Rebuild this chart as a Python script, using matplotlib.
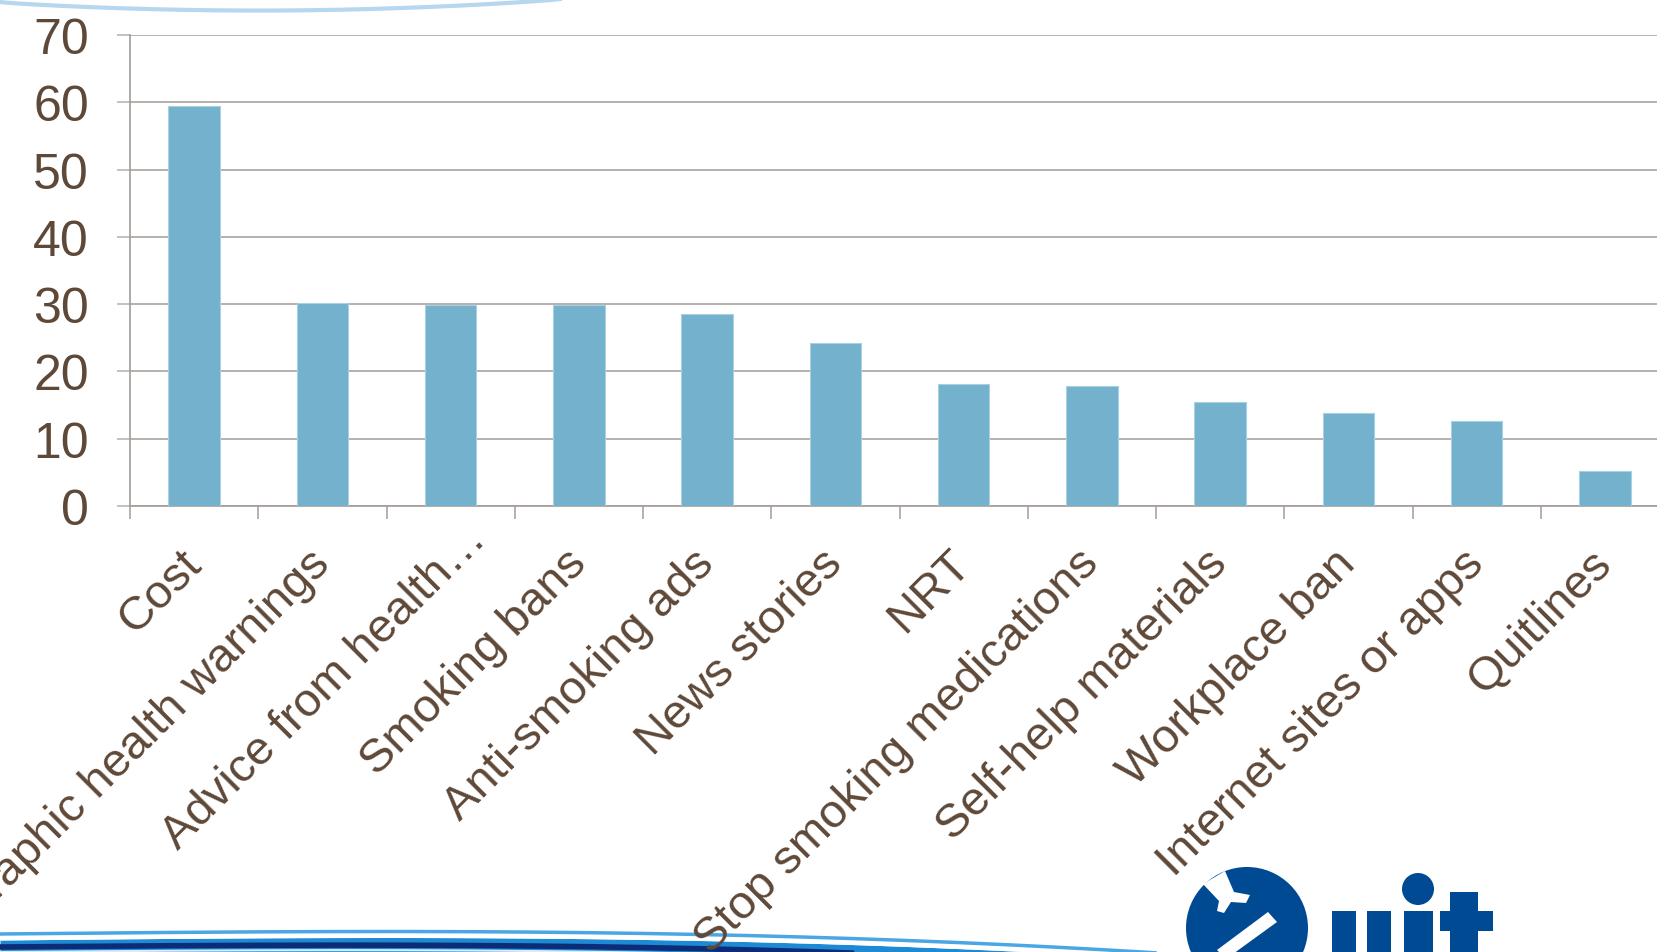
import numpy as np
import matplotlib
matplotlib.use('Agg')
import matplotlib.pyplot as plt
import matplotlib.transforms as mtransforms
from matplotlib.patches import Circle, Rectangle, Polygon
from matplotlib.ticker import FixedLocator

plt.rcParams['font.family'] = ['Liberation Sans', 'DejaVu Sans']

# percentage of quitters naming each influence
categories = ['Cost', 'Graphic health warnings', 'Advice from health\u2026',
              'Smoking bans', 'Anti-smoking ads', 'News stories', 'NRT',
              'Stop smoking medications', 'Self-help materials',
              'Workplace ban', 'Internet sites or apps', 'Quitlines']
values = [59.5, 30.2, 29.9, 29.8, 28.6, 24.2, 18.1, 17.8, 15.5, 13.8, 12.6, 5.2]
yticks = [0, 10, 20, 30, 40, 50, 60, 70]

text_col = '#5e4838'
grid_col = '#b5b0ad'
bar_col = '#73b1cd'

W, H = 1657, 953
fig = plt.figure(figsize=(W / 100, H / 100), dpi=100)

# slide decoration sits underneath the chart, in pixel units
deco = fig.add_axes([0, 0, 1, 1], zorder=0)
deco.set_xlim(0, W)
deco.set_ylim(H, 0)
deco.axis('off')

t = np.linspace(0, 560, 200)
deco.plot(t, 3 + 10 * np.sin(np.pi * t / 560) ** 0.8 - 3 * t / 560, color='#b5d7f0', lw=3)

s = np.linspace(0, 1155, 300)
u = s / 1155
top = 935 - 4 * np.sin(np.pi * u * 0.9) + 20 * u ** 3
deco.fill_between(s, top + 6, H + 2, color='#1e8ad3', lw=0)
deco.fill_between(s, top + 2.5, top + 6, color='white', lw=0)
deco.plot(s, top, color='#4aa6e4', lw=2.5)
deco.plot(s, top + 13 + 2 * u, color='#0c2c78', lw=4)
deco.plot(s, top + 18 + 2 * u, color='#d8ecfa', lw=1.5)

# Quit logo
logo = '#004a94'
deco.add_patch(Circle((1247, 929), 61, color=logo, lw=0))
deco.add_patch(Polygon([[1203, 885], [1225, 872], [1234, 893], [1250, 896], [1246, 904],
                        [1231, 903], [1224, 914], [1217, 912], [1219, 902]], color='white', lw=0))
deco.add_patch(Polygon([[1268, 913], [1277, 923], [1226, 960], [1217, 951]], color='white', lw=0))
deco.add_patch(Rectangle((1332, 912), 24, 50, color=logo, lw=0))
deco.add_patch(Rectangle((1367, 912), 24, 50, color=logo, lw=0))
deco.add_patch(Rectangle((1404, 912), 29, 50, color=logo, lw=0))
deco.add_patch(Circle((1418, 890), 16, color=logo, lw=0))
deco.add_patch(Rectangle((1450, 893), 28, 70, color=logo, lw=0))
deco.add_patch(Rectangle((1440, 912), 53, 20, color=logo, lw=0))

# chart area runs a little past the right edge of the slide
ax = fig.add_axes([130 / W, 1 - 507 / H, 1539 / W, 471 / H], zorder=1)
ax.patch.set_alpha(0)
x = np.arange(len(categories))
ax.bar(x, values, width=0.4, color=bar_col, edgecolor='#a8d0e2', linewidth=0.8, zorder=3)

ax.set_xlim(-0.5, len(categories) - 0.5)
ax.set_ylim(0, 70)
ax.set_yticks(yticks)
ax.set_yticklabels([str(v) for v in yticks])
ax.yaxis.grid(True, color=grid_col, linewidth=1.4, zorder=0)

for side in ['top', 'right']:
    ax.spines[side].set_visible(False)
for side in ['left', 'bottom']:
    ax.spines[side].set_color('#a39c98')
    ax.spines[side].set_linewidth(1.2)

ax.tick_params(axis='y', direction='out', length=9.5, width=1.1, color=grid_col,
               pad=20, labelsize=36, labelcolor=text_col)

# category boundaries get the tick marks, the centres get the labels
ax.xaxis.set_minor_locator(FixedLocator(np.arange(-0.5, len(categories), 1.0)))
ax.tick_params(axis='x', which='minor', direction='out', length=9.5, width=1.1, color='#a39c98')
ax.set_xticks(x)
ax.set_xticklabels(categories)
ax.tick_params(axis='x', which='major', length=0, pad=25, labelsize=34, labelcolor=text_col)
shift = mtransforms.ScaledTranslation(-0.15, 0, fig.dpi_scale_trans)
# the truncated label sits higher up its diagonal
shift_cut = mtransforms.ScaledTranslation(0.13, 0.25, fig.dpi_scale_trans)
for lab in ax.get_xticklabels():
    lab.set_rotation(45)
    lab.set_ha('right')
    lab.set_va('top')
    lab.set_rotation_mode('anchor')
    if lab.get_text().endswith('\u2026'):
        lab.set_transform(lab.get_transform() + shift_cut)
    else:
        lab.set_transform(lab.get_transform() + shift)

fig.savefig('out.png', dpi=100)
